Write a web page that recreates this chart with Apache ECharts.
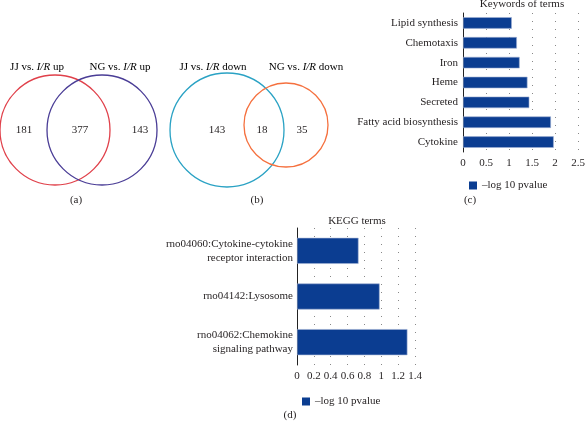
<!DOCTYPE html>
<html><head><meta charset="utf-8">
<script src="https://cdn.jsdelivr.net/npm/echarts@6/dist/echarts.min.js"></script>
<style>html,body{margin:0;padding:0;background:#fff}#c{width:588px;height:421px}</style>
</head><body><div id="c"></div>
<script>
// Venn counts: [left only, overlap, right only]
const vennACounts = [181, 377, 143];
const vennBCounts = [143, 18, 35];
// Keywords of terms (top to bottom)
const kwCategories = ['Lipid synthesis', 'Chemotaxis', 'Iron', 'Heme', 'Secreted', 'Fatty acid biosynthesis', 'Cytokine'];
const kwValues = [1.06, 1.17, 1.23, 1.40, 1.44, 1.91, 1.97];
const kwTicks = ['0', '0.5', '1', '1.5', '2', '2.5'];
// KEGG terms (top to bottom)
const keggCategories = ['rno04060:Cytokine-cytokine\nreceptor interaction', 'rno04142:Lysosome', 'rno04062:Chemokine\nsignaling pathway'];
const keggValues = [0.73, 0.98, 1.31];
const keggTicks = ['0', '0.2', '0.4', '0.6', '0.8', '1', '1.2', '1.4'];
const seriesName = '\u2013log 10 pvalue';

const FONT = '"Liberation Serif","DejaVu Serif",serif';
const TXT = '#231f20';
const BAR = '#0b3d91';
const chart = echarts.init(document.getElementById('c'), null, {renderer: 'canvas'});

function txt(text, x, y, size, extra) {
  return Object.assign({type: 'text', style: {text: text, x: x, y: y, font: size + 'px ' + FONT, fill: TXT, textAlign: 'center', textVerticalAlign: 'middle'}}, extra || {});
}
function rtxt(pre, post, x, y) {
  return {type: 'text', style: {
    text: '{n|' + pre + '}{i|I/R}{n|' + post + '}', x: x, y: y, textAlign: 'center', textVerticalAlign: 'middle',
    rich: {n: {fontFamily: FONT, fontSize: 11, color: TXT}, i: {fontFamily: FONT, fontSize: 11, fontStyle: 'italic', color: TXT}}
  }};
}
function circ(cx, cy, r, color) {
  return {type: 'circle', shape: {cx: cx, cy: cy, r: r}, style: {fill: 'none', stroke: color, lineWidth: 1.3}};
}

const graphics = [
  circ(55, 130, 55, '#e0404a'),
  circ(102, 130, 55, '#4a3d96'),
  rtxt('JJ vs. ', ' up', 37, 67),
  rtxt('NG vs. ', ' up', 120, 67),
  txt(String(vennACounts[0]), 24, 130, 11),
  txt(String(vennACounts[1]), 80, 130, 11),
  txt(String(vennACounts[2]), 140, 130, 11),
  txt('(a)', 76, 200, 11),
  circ(227, 130, 57, '#2aa2c4'),
  circ(286, 125, 42, '#f5703e'),
  rtxt('JJ vs. ', ' down', 213, 67),
  rtxt('NG vs. ', ' down', 306, 67),
  txt(String(vennBCounts[0]), 217, 130, 11),
  txt(String(vennBCounts[1]), 262, 130, 11),
  txt(String(vennBCounts[2]), 302, 130, 11),
  txt('(b)', 257, 200, 11),
  txt('Keywords of terms', 522, 4, 11),
  txt('(c)', 470, 200, 11),
  txt('KEGG terms', 357, 221, 11),
  txt('(d)', 290, 415, 11)
];

const axisLbl = {fontFamily: FONT, fontSize: 11, color: TXT};
const split = {show: true, lineStyle: {type: [1, 7], color: '#888', width: 1}};
const legendBase = {itemWidth: 8, itemHeight: 8, icon: 'rect',
  itemStyle: {color: BAR, borderWidth: 0},
  textStyle: {fontFamily: FONT, fontSize: 11, color: TXT}};

chart.setOption({
  animation: false,
  textStyle: {fontFamily: FONT},
  grid: [
    {left: 463, right: 7, top: 13, bottom: 269, containLabel: false},
    {left: 297, right: 173, top: 228, bottom: 56, containLabel: false}
  ],
  xAxis: [
    {type: 'value', gridIndex: 0, min: 0, max: 2.5, interval: 0.5,
     axisLine: {show: false}, axisTick: {show: false}, splitLine: split,
     axisLabel: Object.assign({margin: 6, formatter: (v, i) => kwTicks[i]}, axisLbl)},
    {type: 'value', gridIndex: 1, min: 0, max: 1.4, interval: 0.2,
     axisLine: {show: false}, axisTick: {show: false}, splitLine: split,
     axisLabel: Object.assign({margin: 6, formatter: (v, i) => keggTicks[i]}, axisLbl)}
  ],
  yAxis: [
    {type: 'category', gridIndex: 0, data: kwCategories, inverse: true,
     axisLine: {show: true, lineStyle: {color: '#222', width: 1}}, axisTick: {show: false},
     axisLabel: Object.assign({margin: 5}, axisLbl)},
    {type: 'category', gridIndex: 1, data: keggCategories, inverse: true,
     axisLine: {show: true, lineStyle: {color: '#222', width: 1}}, axisTick: {show: false},
     axisLabel: Object.assign({margin: 4, lineHeight: 14, align: 'right'}, axisLbl)}
  ],
  legend: [
    Object.assign({data: [seriesName], left: 464, top: 175}, legendBase),
    Object.assign({data: [seriesName], left: 297, top: 391}, legendBase)
  ],
  series: [
    {name: seriesName, type: 'bar', xAxisIndex: 0, yAxisIndex: 0, data: kwValues, barWidth: '58%',
     itemStyle: {color: BAR, borderColor: '#9fb0d4', borderWidth: 0.6}},
    {name: seriesName, type: 'bar', xAxisIndex: 1, yAxisIndex: 1, data: keggValues, barWidth: '57%',
     itemStyle: {color: BAR, borderColor: '#9fb0d4', borderWidth: 0.6}}
  ],
  graphic: graphics
});
</script>
</body></html>
